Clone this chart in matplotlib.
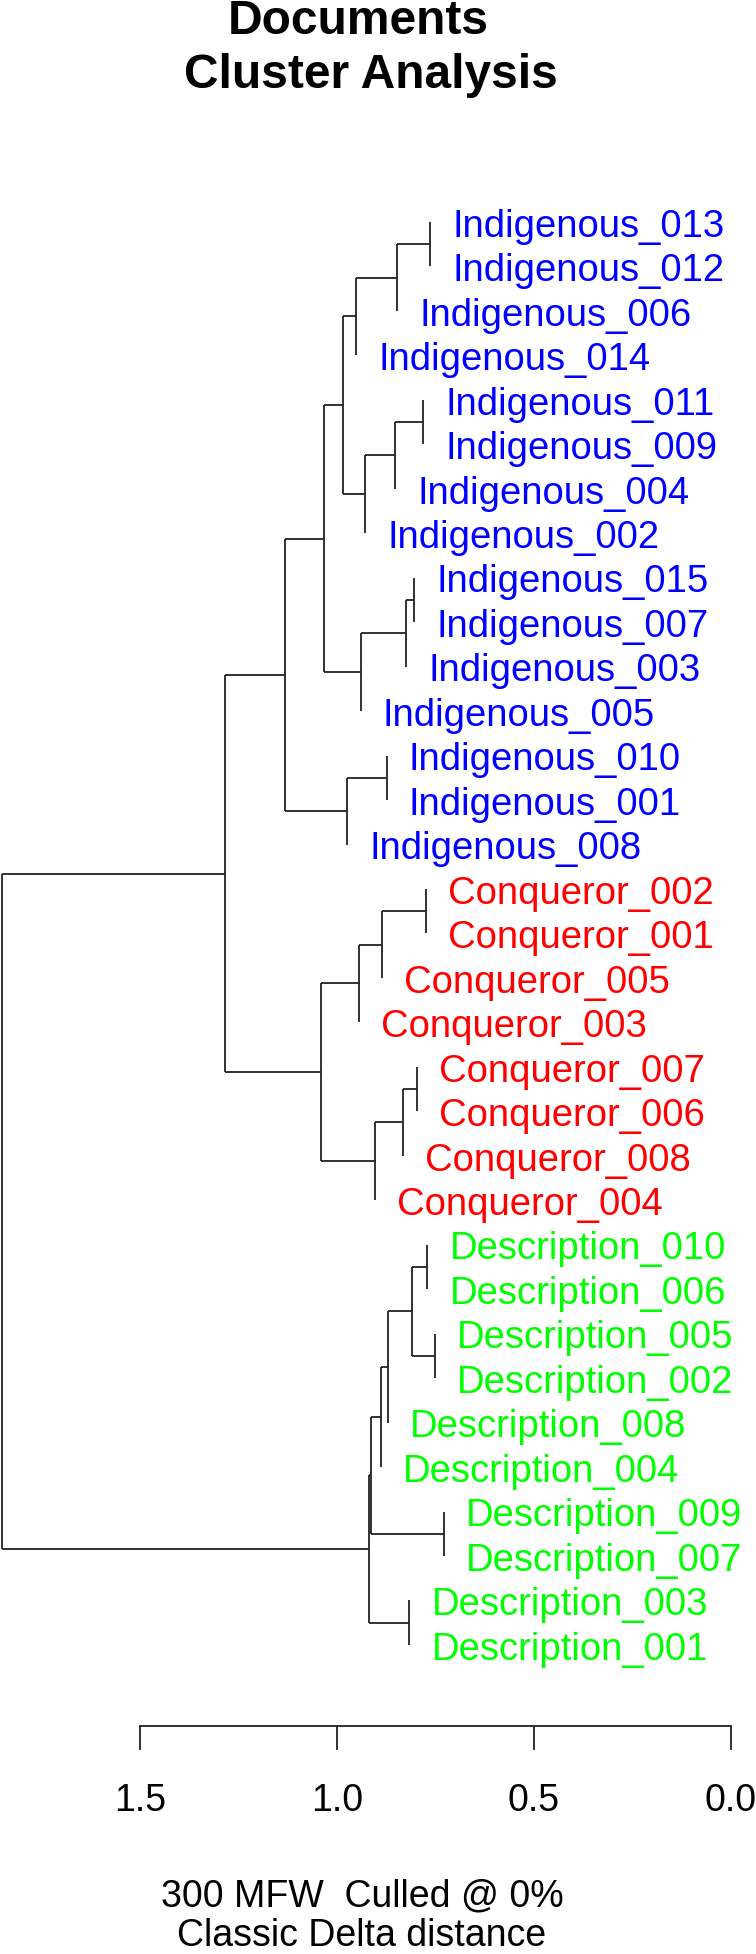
import matplotlib
matplotlib.use("Agg")
import matplotlib.pyplot as plt

plt.rcParams['font.family'] = ['Liberation Sans', 'DejaVu Sans']

# ---------------------------
# tree
# ---------------------------
node_names = ["a", "b", "c", "e1", "e2", "e", "d", "g1", "g2", "g", "f",
              "i1", "i", "h",
              "c3", "c2", "c1", "c5a", "c5", "c4", "cq", "j",
              "d1", "d2", "d3", "d4", "d5", "d7", "d6", "d8", "dr", "root"]
left_child = ["Indigenous_013", "a", "b", "Indigenous_011", "e1", "e2", "c",
              "Indigenous_015", "g1", "g2", "d",
              "Indigenous_010", "i1", "f",
              "Conqueror_002", "c3", "c2", "Conqueror_007", "c5a", "c5", "c1", "h",
              "Description_010", "Description_005", "d1", "d3", "d4",
              "Description_009", "d5", "Description_003", "d6", "j"]
right_child = ["Indigenous_012", "Indigenous_006", "Indigenous_014",
               "Indigenous_009", "Indigenous_004", "Indigenous_002", "e",
               "Indigenous_007", "Indigenous_003", "Indigenous_005", "g",
               "Indigenous_001", "Indigenous_008", "i",
               "Conqueror_001", "Conqueror_005", "Conqueror_003",
               "Conqueror_006", "Conqueror_008", "Conqueror_004", "c4", "cq",
               "Description_006", "Description_002", "d2", "Description_008",
               "Description_004", "Description_007", "d7", "Description_001",
               "d8", "dr"]
heights = [0.764, 0.848, 0.952, 0.782, 0.853, 0.929, 0.984, 0.804, 0.825,
           0.940, 1.033, 0.874, 0.975, 1.133,
           0.775, 0.886, 0.945, 0.798, 0.832, 0.903, 1.041, 1.284,
           0.771, 0.751, 0.809, 0.871, 0.889, 0.728, 0.913, 0.816, 0.918,
           1.851]

group_colors = {"Indigenous": "#0000FF", "Conqueror": "#FF0000",
                "Description": "#00FF00"}
ticks = [1.5, 1.0, 0.5, 0.0]
tick_labels = ["1.5", "1.0", "0.5", "0.0"]

nodes = {n: (l, r, h) for n, l, r, h in zip(node_names, left_child, right_child, heights)}

# leaf order from the tree, top to bottom
order = []
def walk(n):
    if n in nodes:
        walk(nodes[n][0])
        walk(nodes[n][1])
    else:
        order.append(n)
walk("root")

ypos = {leaf: i for i, leaf in enumerate(order)}
parent_h = {}
def place(n):
    if n not in nodes:
        return ypos[n]
    l, r, h = nodes[n]
    parent_h[l] = h
    parent_h[r] = h
    yl, yr = place(l), place(r)
    ypos[n] = (yl + yr) / 2.0
    return ypos[n]
place("root")

fig = plt.figure(figsize=(7.56, 19.54), dpi=100)
ax = fig.add_axes([0, 0, 1, 1])
ax.set_xlim(1.855, -0.0634)
ax.set_ylim(38.95, -4.992)

lc = "#222222"
for n in node_names:
    l, r, h = nodes[n]
    ax.plot([h, h], [ypos[l], ypos[r]], color=lc, lw=1.3, solid_capstyle="butt")
    for ch in (l, r):
        if ch in nodes:
            ax.plot([h, nodes[ch][2]], [ypos[ch], ypos[ch]], color=lc, lw=1.3,
                    solid_capstyle="butt")

for leaf in order:
    col = group_colors[leaf.split("_")[0]]
    ax.annotate(leaf, xy=(parent_h[leaf], ypos[leaf]), xytext=(16, -10.6),
                textcoords="offset points", ha="left", va="baseline",
                color=col, fontsize=27.5)

# scale axis
for s in ["top", "left", "right"]:
    ax.spines[s].set_visible(False)
ax.spines["bottom"].set_position(("data", 33.82))
ax.spines["bottom"].set_bounds(0.0, 1.5)
ax.spines["bottom"].set_color(lc)
ax.spines["bottom"].set_linewidth(1.3)
ax.set_yticks([])
ax.set_xticks(ticks)
ax.set_xticklabels(tick_labels)
ax.tick_params(axis="x", direction="out", length=17, width=1.3, color=lc,
               pad=24, labelsize=27)
ax.patch.set_visible(False)

H = 1954.0
fig.text(358 / 756, 1 - 34 / H, "Documents", ha="center", va="baseline",
         fontsize=34.5, fontweight="bold")
fig.text(371 / 756, 1 - 88 / H, "Cluster Analysis", ha="center", va="baseline",
         fontsize=34.5, fontweight="bold")
fig.text(362 / 756, 1 - 1906 / H, "300 MFW  Culled @ 0%", ha="center",
         va="baseline", fontsize=27)
fig.text(362 / 756, 1 - 1946 / H, "Classic Delta distance", ha="center",
         va="baseline", fontsize=27)

fig.savefig("out.png", dpi=100)
